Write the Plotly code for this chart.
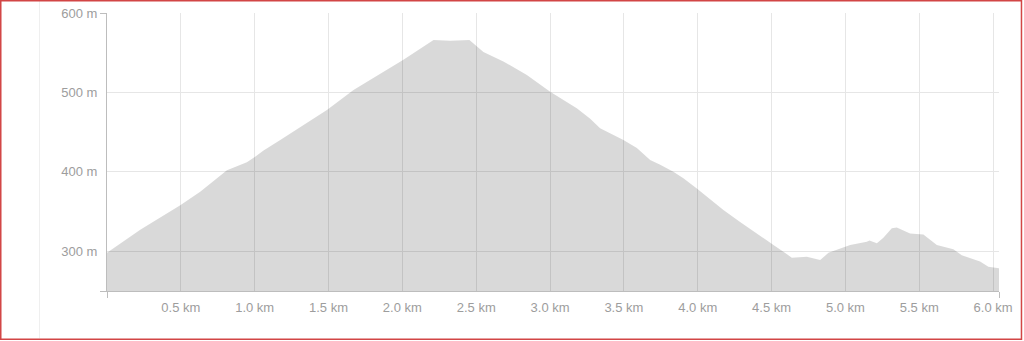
import plotly.graph_objects as go

# Elevation profile (distance in km, elevation in m)
distance_km = [0.0, 0.225, 0.496, 0.631, 0.812, 0.879, 0.947, 1.003, 1.060, 1.173,
               1.489, 1.669, 2.007, 2.211, 2.324, 2.454, 2.549, 2.684, 2.843, 3.001,
               3.181, 3.272, 3.339, 3.497, 3.588, 3.678, 3.746, 3.835, 3.903, 3.994,
               4.084, 4.174, 4.287, 4.400, 4.513, 4.580, 4.637, 4.739, 4.829, 4.885,
               4.942, 5.032, 5.145, 5.163, 5.213, 5.257, 5.314, 5.348, 5.438, 5.528,
               5.619, 5.731, 5.788, 5.844, 5.912, 5.968, 6.040]
elevation_m = [298, 327, 358, 375, 402, 407, 412, 419, 427, 440,
               478, 503, 541, 566, 565, 566, 551, 539, 522, 501,
               480, 467, 455, 440, 430, 415, 409, 400, 392, 379,
               365, 352, 337, 323, 308, 299.5, 292, 293, 289, 298,
               301.5, 308, 312, 313.5, 310, 317, 329, 330, 322.5, 321,
               308, 302.5, 295, 291, 287, 280.5, 278.5]

x_ticks = [0.5, 1.0, 1.5, 2.0, 2.5, 3.0, 3.5, 4.0, 4.5, 5.0, 5.5, 6.0]
x_tick_labels = ["0.5 km", "1.0 km", "1.5 km", "2.0 km", "2.5 km", "3.0 km",
                 "3.5 km", "4.0 km", "4.5 km", "5.0 km", "5.5 km", "6.0 km"]
y_ticks = [300, 400, 500, 600]
y_tick_labels = ["300 m", "400 m", "500 m", "600 m"]
x_range = [0, 6.04]
y_range = [250, 600]

FONT = dict(family="Liberation Sans, Arial, sans-serif", size=13, color="#9d9d9d")
AXIS_COLOR = "#bdbdbd"
GRID_COLOR = "#e6e6e6"

fig = go.Figure()
fig.add_trace(go.Scatter(
    x=distance_km, y=elevation_m, mode="lines",
    line=dict(width=0, color="rgba(0,0,0,0)"),
    fill="tozeroy", fillcolor="rgba(0,0,0,0.15)",
    hoverinfo="skip", showlegend=False))
# invisible trace carrying the overlay axes that draw the end ticks
fig.add_trace(go.Scatter(
    x=distance_km, y=elevation_m, mode="lines", xaxis="x2", yaxis="y2",
    line=dict(width=0, color="rgba(0,0,0,0)"), hoverinfo="skip", showlegend=False))

fig.update_layout(
    width=1024, height=341,
    margin=dict(l=107, r=25, t=13, b=50, pad=0, autoexpand=False),
    paper_bgcolor="white", plot_bgcolor="white",
    font=FONT, showlegend=False,
    xaxis=dict(range=x_range, tickmode="array", tickvals=x_ticks, ticktext=x_tick_labels,
               showgrid=True, gridcolor=GRID_COLOR, gridwidth=1,
               showline=True, linecolor=AXIS_COLOR, linewidth=1,
               ticks="outside", ticklen=4, tickcolor="rgba(0,0,0,0)",
               zeroline=False, tickfont=FONT, fixedrange=True, automargin=False),
    yaxis=dict(range=y_range, tickmode="array", tickvals=y_ticks, ticktext=y_tick_labels,
               showgrid=True, gridcolor=GRID_COLOR, gridwidth=1,
               showline=True, linecolor=AXIS_COLOR, linewidth=1,
               ticks="outside", ticklen=6, tickcolor="rgba(0,0,0,0)",
               zeroline=False, tickfont=FONT, fixedrange=True, automargin=False),
    xaxis2=dict(overlaying="x", anchor="y2", side="bottom", range=x_range,
                tickvals=x_range, ticks="outside", ticklen=6, tickcolor=AXIS_COLOR,
                showticklabels=False, showgrid=False, showline=False, zeroline=False,
                automargin=False),
    yaxis2=dict(overlaying="y", anchor="x2", side="left", range=y_range,
                tickvals=y_range, ticks="outside", ticklen=6, tickcolor=AXIS_COLOR,
                showticklabels=False, showgrid=False, showline=False, zeroline=False,
                automargin=False),
    shapes=[
        dict(type="line", xref="paper", yref="paper",
             x0=-0.0757, x1=-0.0757, y0=1.044, y1=-0.17,
             line=dict(color="#efefef", width=1)),
        dict(type="rect", xref="paper", yref="paper",
             x0=-0.1191, x1=1.0252, y0=1.0441, y1=-0.1736,
             line=dict(color="#d24545", width=1.5), fillcolor="rgba(0,0,0,0)"),
    ],
)

fig.write_html("out.html", config={"displayModeBar": False})
